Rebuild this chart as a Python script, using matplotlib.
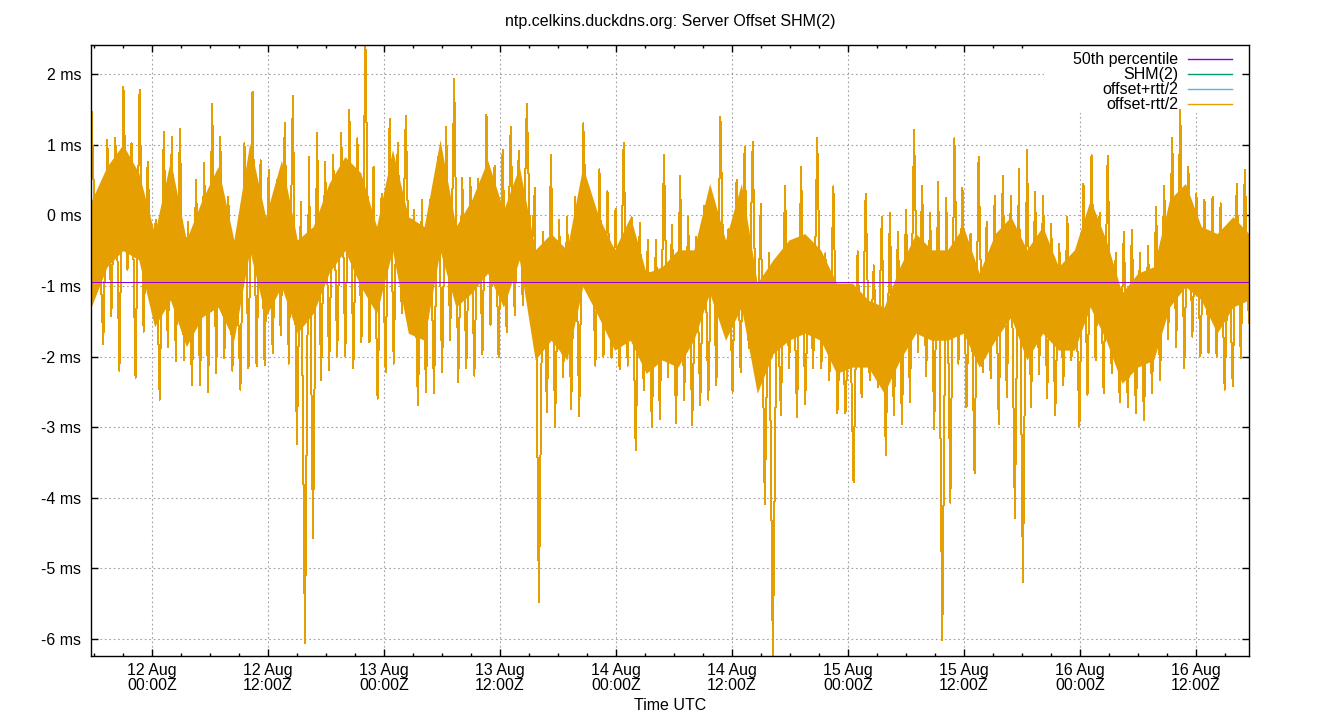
import numpy as np
import pandas as pd
import matplotlib
matplotlib.use("Agg")
import matplotlib.pyplot as plt
import matplotlib.dates as mdates
from matplotlib.patches import Rectangle
from matplotlib.ticker import FuncFormatter

# local highs / lows of the offset trace (ms), read left to right
hi = [1.63, -0.2, 1.07, 1.1, 1.82, 1.02, 1.78, 0.76, -0.07, 1.18, 1.11, 1.22,
      -0.09, 0.5, 0.74, 1.58, 1.11, 0.26, -0.54, 1.02, 1.75, 0.78, 0.64, 0.5,
      1.31, 1.69, 0.19, 0.83, 1.16, 0.75, 0.86, 1.16, 1.49, 1.09, 2.4, 0.69,
      0.3, 1.37, 1.03, 1.41, 0.08, 0.22, 0.21, 0.83, 1.25, 1.93, 0.53, 0.53,
      0.52, 1.42, 0.7, 0.93, 1.25, 0.91, 1.58, 0.39, -0.23, 0.86, -0.06, -0.03,
      0.26, 1.3, 0.15, 0.65, 0.34, 0.09, 1.02, -0.03, -0.11, -0.35, -0.35, 0.86, -0.14,
      0.55, -0.03, -0.31, 0.13, 0.19, 1.39, -0.2, 0.5, 0.97, 1.04, 0.16, -0.54,
      -0.87, 0.41, -0.43, 0.69, -0.59, 1.1, -0.54, 0.41, -1.1, -0.99, -0.51, 0.3,
      -0.71, -0.03, 0.03, -0.23, 0.08, 1.21, 0.41, 0.03, 0.47, 0.25, 1.09, 0.39,
      -0.26, 0.83, -0.09, 0.27, 0.55, 0.27, 0.65, 0.92, 0.33, 0.27, -0.12, -0.41,
      -0.02, -0.77, 0.45, 0.85, 0.03, 0.84, -0.54, -0.23, -0.21, -0.54, -0.44, 0.12,
      0.41, 1.09, 1.49, 0.69, 0.31, 0.22, 0.26, 0.17, -0.35, 0.45, 0.64]
lo = [-0.3, -1.83, -1.43, -2.2, -0.77, -2.3, -1.65, -1.08, -2.61, -1.86, -2.07, -2.05,
      -2.4, -2.4, -2.5, -2.24, -2.02, -2.2, -2.47, -2.17, -2.14, -2.12, -1.95, -1.7,
      -2.1, -3.24, -6.05, -4.57, -2.33, -2.19, -2.0, -2.0, -2.16, -1.8, -1.8, -2.6,
      -2.22, -2.1, -1.38, -1.43, -2.69, -2.5, -2.52, -2.22, -1.77, -2.36, -2.16, -2.27,
      -1.97, -1.55, -2.01, -1.66, -1.42, -1.27, -0.78, -5.47, -2.79, -3.0, -2.29, -2.74,
      -2.84, -0.61, -2.13, -2.0, -2.02, -2.18, -2.13, -3.33, -2.48, -3.0, -2.89, -2.29, -2.94,
      -2.61, -2.97, -2.69, -2.61, -2.41, -1.55, -2.5, -2.22, -1.88, -2.33, -4.09, -6.24,
      -2.83, -2.16, -2.86, -2.67, -2.16, -2.16, -2.33, -2.8, -2.8, -3.78, -2.58, -2.33,
      -2.43, -3.39, -2.83, -2.96, -2.64, -1.94, -2.27, -3.03, -6.01, -4.07, -2.1, -2.72,
      -3.65, -2.22, -2.3, -2.95, -2.58, -4.29, -5.2, -2.72, -2.25, -2.59, -2.83, -2.41,
      -2.05, -2.99, -2.54, -2.05, -2.52, -2.24, -2.64, -2.71, -2.8, -2.9, -2.52, -2.33,
      -1.76, -1.86, -2.16, -1.72, -2.0, -1.95, -2.0, -2.47, -2.42, -2.02, -1.53]

# the dense middle of the trace, where the samples overlap (ms)
core_hi = [0.2, 0.69, 1.0, 0.6, -0.26, 0.78, -0.35, 0.22, 0.69, -0.35, 1.02, -0.02,
           0.78, -0.35, -0.16, 0.45, 0.83, 0.6, -0.16, 0.93, -0.02, -0.16, 1.07, -0.16, 0.22,
           0.78, 0.07, 0.69, -0.49, -0.26, -0.49, 0.69, -0.02, -0.49, -0.02, -0.82, -0.73,
           -0.49, -0.49, 0.45, -0.35, 0.45, -0.96, -0.63, -0.35, -0.26, -0.49, -0.96, -0.96, -1.2,
           -1.3, -0.73, -0.26, -0.49, -0.49, -0.16, -0.82, -0.26, -0.02, -0.49, -0.16, -0.73,
           -0.49, 0.22, -0.35, -1.1, -0.82, -0.73, 0.22, 0.45, -0.16, -0.26, -0.02, -0.26]
core_lo = [-1.3, -0.73, -0.5, -0.63, -1.58, -1.2, -1.86, -1.44, -1.3, -1.77, -0.5, -1.44,
           -1.01, -1.67, -1.39, -0.82, -0.5, -1.01, -1.39, -0.5, -1.67, -1.77, -0.5, -1.3, -1.1,
           -0.82, -1.3, -0.63, -2.05, -1.77, -2.05, -1.01, -1.44, -1.91, -1.77, -2.24, -2.05,
           -2.15, -1.77, -1.1, -1.77, -1.3, -2.52, -1.96, -1.77, -1.67, -1.77, -2.24, -2.15, -2.15,
           -2.52, -2.05, -1.67, -1.77, -1.77, -1.67, -2.15, -1.77, -1.44, -2.05, -1.67, -1.91,
           -1.91, -1.3, -1.77, -2.38, -2.15, -2.05, -1.3, -1.01, -1.2, -1.67, -1.3, -1.2]
p50 = -0.95

t_start = "2024-08-11 17:42"
t_end = "2024-08-16 17:28"
series_names = ["50th percentile", "SHM(2)", "offset+rtt/2", "offset-rtt/2"]
series_colors = ["#9400d3", "#009e73", "#56b4e9", "#e69f00"]

plt.rcParams['font.family'] = ['Liberation Sans', 'DejaVu Sans']
plt.rcParams['font.size'] = 11.5

times = pd.date_range(t_start, t_end, periods=2 * len(hi))
offset = np.column_stack([hi, lo]).ravel()
core_times = pd.date_range(t_start, t_end, periods=len(core_hi))

fig = plt.figure(figsize=(13.4, 7.2), dpi=100)
ax = fig.add_axes([91 / 1340, 64 / 720, 1158 / 1340, 611 / 720])

# SHM(2) and offset+rtt/2 coincide with offset-rtt/2 and end up hidden below it
ax.plot(times, offset, color=series_colors[1], lw=0.5, antialiased=False, zorder=1.8)
ax.plot(times, offset, color=series_colors[2], lw=0.5, antialiased=False, zorder=1.9)
ax.fill_between(core_times, core_lo, core_hi, color=series_colors[3], lw=0,
                antialiased=False, zorder=2)
ax.plot(times, offset, color=series_colors[3], lw=0.72, antialiased=False, zorder=2)
ax.axhline(p50, color=series_colors[0], lw=0.72, antialiased=False, zorder=3)

ax.set_xlim(pd.Timestamp("2024-08-11 17:41"), pd.Timestamp("2024-08-16 17:29"))
ax.set_ylim(-6.24, 2.41)

ax.xaxis.set_major_locator(mdates.HourLocator(byhour=[0, 12]))
ax.xaxis.set_minor_locator(mdates.HourLocator(byhour=range(0, 24, 3)))
ax.xaxis.set_major_formatter(mdates.DateFormatter("%d %b\n%H:%MZ"))
ax.set_yticks(range(-6, 3))
ax.yaxis.set_major_formatter(FuncFormatter(lambda v, p: f"{v:.0f} ms"))

ax.tick_params(which='both', direction='in', top=True, right=True, width=1, colors='black')
ax.tick_params(which='major', length=5)
ax.tick_params(which='minor', length=2.5)
ax.tick_params(axis='y', pad=7)
ax.tick_params(axis='x', pad=5)
for s in ax.spines.values():
    s.set_linewidth(1)
    s.set_zorder(5)

ax.set_axisbelow(True)
ax.grid(True, which='major', color='#a0a0a0', ls=(0, (1.5, 2.5)), lw=0.8)

ax.set_title("ntp.celkins.duckdns.org: Server Offset SHM(2)", pad=14, fontsize=11.5)
ax.set_xlabel("Time UTC", labelpad=4)

# opaque key in the top right corner
ax.add_patch(Rectangle((0.823, 0.889), 0.170, 0.111, transform=ax.transAxes,
                       facecolor='white', edgecolor='none', zorder=1))
for i, (name, c) in enumerate(zip(series_names, series_colors)):
    y = 0.977 - i * 0.0246
    ax.text(0.9387, y, name, ha='right', va='center', transform=ax.transAxes, zorder=4)
    ax.plot([0.9473, 0.9853], [y, y], transform=ax.transAxes, color=c, lw=1, zorder=4)

fig.canvas.draw()
for lbl in ax.get_xticklabels():
    lbl.set_linespacing(1.0)

fig.savefig("out.png", dpi=100)
